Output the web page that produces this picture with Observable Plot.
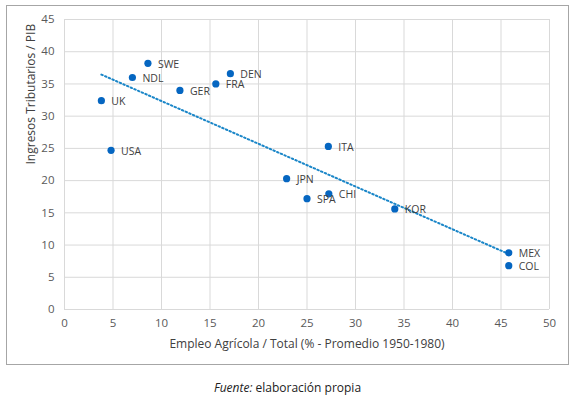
<!DOCTYPE html>
<html>
<head>
<meta charset="utf-8">
<script src="https://cdn.jsdelivr.net/npm/d3@7"></script>
<script src="https://cdn.jsdelivr.net/npm/@observablehq/plot@0.6"></script>
<style>
  body { margin: 0; background: #fff; font-family: "Open Sans", Lato, sans-serif; }
  #wrap { position: relative; width: 575px; height: 398px; }
  #frame { position: absolute; left: 6px; top: 5px; width: 561px; height: 358px; border: 1px solid #a6a6a6; pointer-events: none; }
  #chart { position: absolute; left: 0; top: 0; }
  #caption { position: absolute; left: 0; width: 575px; top: 379px; text-align: center; font-size: 12px; color: #222; }
</style>
</head>
<body>
<div id="wrap">
  <div id="chart"></div>
  <div id="frame"></div>
  <div id="caption"><i>Fuente:</i> elaboración propia</div>
</div>
<script>
const countries = ["SWE","NDL","UK","USA","GER","FRA","DEN","JPN","ITA","CHI","SPA","KOR","MEX","COL"];
const empleoAgricola = [8.6, 7.0, 3.8, 4.8, 11.9, 15.6, 17.1, 22.9, 27.2, 27.25, 25.0, 34.05, 45.8, 45.8];
const ingresosTributarios = [38.2, 36.0, 32.4, 24.7, 34.0, 35.0, 36.6, 20.3, 25.3, 17.95, 17.2, 15.6, 8.8, 6.8];
const xTicks = [0,5,10,15,20,25,30,35,40,45,50];
const yTicks = [0,5,10,15,20,25,30,35,40,45];

const data = countries.map((c, i) => ({country: c, x: empleoAgricola[i], y: ingresosTributarios[i]}));

const chart = Plot.plot({
  width: 575,
  height: 365,
  marginLeft: 64,
  marginRight: 26,
  marginTop: 19,
  marginBottom: 56,
  style: {fontFamily: '"Open Sans", Lato, sans-serif', fontSize: "11px", color: "#595959", background: "transparent"},
  x: {domain: [0, 50], ticks: xTicks, label: null},
  y: {domain: [0, 45], ticks: yTicks, label: null},
  marks: [
    Plot.gridX(xTicks, {stroke: "#d9d9d9", strokeOpacity: 1}),
    Plot.gridY(yTicks, {stroke: "#d9d9d9", strokeOpacity: 1}),
    Plot.axisX(xTicks, {tickSize: 0, tickPadding: 9, fill: "#595959", fontSize: 11.5}),
    Plot.axisY(yTicks, {tickSize: 0, tickPadding: 10, fill: "#595959", fontSize: 11.5}),
    Plot.text(["Empleo Agrícola / Total (% - Promedio 1950-1980)"], {frameAnchor: "bottom", dy: 38, fill: "#404040", fontSize: 12}),
    Plot.text(["Ingresos Tributarios / PIB"], {frameAnchor: "left", dx: -33, rotate: -90, fill: "#404040", fontSize: 12}),
    Plot.linearRegressionY(data, {x: "x", y: "y", ci: 0, stroke: "#1a86c8", strokeWidth: 2, strokeDasharray: "1.5,2.5"}),
    Plot.dot(data, {x: "x", y: "y", r: 3.6, fill: "#0566c1", stroke: "none"}),
    Plot.text(data, {x: "x", y: "y", text: "country", textAnchor: "start", dx: 10, dy: 1, fill: "#404040", fontSize: 10.5, lineHeight: 1})
  ]
});
document.getElementById("chart").appendChild(chart);
</script>
</body>
</html>
